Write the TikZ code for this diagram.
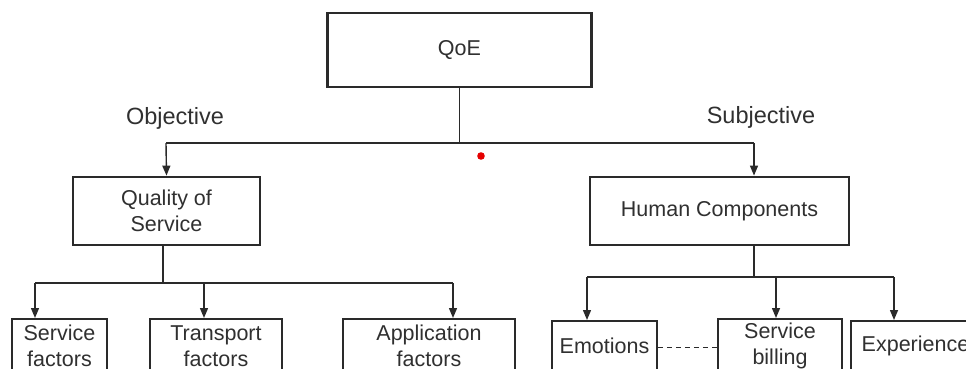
\documentclass[tikz,border=0pt]{standalone}
\usepackage{fontspec}
\setmainfont{Liberation Sans}
\usetikzlibrary{arrows.meta}
\definecolor{ink}{HTML}{2A2A2A}
\definecolor{txt}{HTML}{303030}
\begin{document}
\begin{tikzpicture}[x=1pt,y=-1pt,
  bigbox/.style={draw=ink,line width=2.8pt,fill=white,align=center,inner sep=0pt,
     font=\fontsize{21.5}{26}\selectfont,text=txt},
  smallbox/.style={draw=ink,line width=1.9pt,fill=white,align=center,inner sep=0pt,
     font=\fontsize{21.5}{26}\selectfont,text=txt},
  lab/.style={font=\fontsize{23.5}{28}\selectfont,text=txt,anchor=base,inner sep=0pt},
  conn/.style={draw=ink,line width=1.4pt},
  arr/.style={conn,-{Triangle[length=10pt,width=8pt]}}]
\useasboundingbox (0,0) rectangle (966,369);
\clip (0,0) rectangle (966,369);
% top
\node[bigbox,minimum width=264pt,minimum height=74pt] (qoe) at (459.5,50) {QoE};
\node[bigbox,minimum width=187pt,minimum height=68pt] (qos) at (166.5,211) {Quality of\\Service};
\node[bigbox,minimum width=259pt,minimum height=68pt] (hum) at (719.5,211) {Human Components};
\node[lab] (obj) at (175,124) {Objective};
\node[lab] (subj) at (761,123) {Subjective};
% junctions
\coordinate (j0) at (459.5,143);
\coordinate (jl) at (166,143);
\coordinate (jr) at (754,143);
\draw[conn] (qoe.south) -- (j0);
\draw[conn] (jl) -- (jr);
\draw[arr] (jl) -- (qos.north);
\draw[arr] (jr) -- (jr |- hum.north);
% bottom left boxes
\node[smallbox,minimum width=95pt,minimum height=54pt,anchor=north] (sf) at (59.5,318) {Service\\factors};
\node[smallbox,minimum width=132pt,minimum height=54pt,anchor=north] (tf) at (216,318) {Transport\\factors};
\node[smallbox,minimum width=172pt,minimum height=54pt,anchor=north] (af) at (429,318) {Application\\factors};
\coordinate (q1) at (163,245);
\coordinate (q2) at (163,283);
\coordinate (ql) at (35,283);
\coordinate (qm) at (204,283);
\coordinate (qr) at (453,283);
\draw[conn] (q1) -- (q2);
\draw[conn] (ql) -- (qr);
\draw[arr] (ql) -- (ql |- sf.north);
\draw[arr] (qm) -- (qm |- tf.north);
\draw[arr] (qr) -- (qr |- af.north);
% bottom right boxes
\node[smallbox,minimum width=105pt,minimum height=50pt,anchor=north] (emo) at (604.5,320) {Emotions};
\node[smallbox,minimum width=124pt,minimum height=54pt,anchor=north] (sb) at (780,318) {Service\\billing};
\node[smallbox,minimum width=129pt,minimum height=50pt,anchor=north] (exp) at (915.5,320) {Experience};
\coordinate (h1) at (754,245);
\coordinate (h2) at (754,277);
\coordinate (hl) at (587,277);
\coordinate (hm) at (776,277);
\coordinate (hr) at (894,277);
\draw[conn] (h1) -- (h2);
\draw[conn] (hl) -- (hr);
\draw[arr] (hl) -- (hl |- emo.north);
\draw[arr] (hm) -- (hm |- sb.north);
\draw[arr] (hr) -- (hr |- exp.north);
\draw[conn,line width=1pt,dash pattern=on 5pt off 4pt] (emo.east |- 0,347) -- (sb.west |- 0,347);
% red dot
\fill[red!90!black] (481,156) circle (3.8pt);
\end{tikzpicture}
\end{document}
